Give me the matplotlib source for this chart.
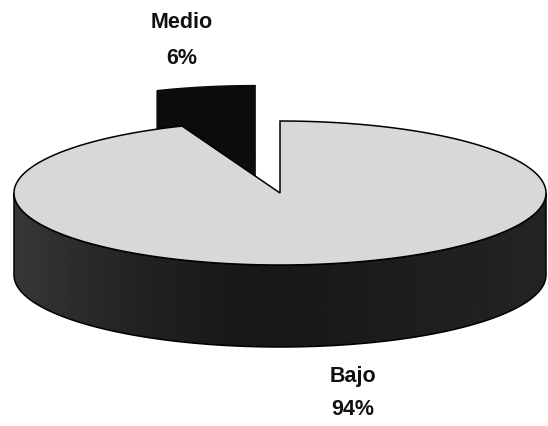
import numpy as np
import matplotlib.pyplot as plt
from matplotlib.patches import Polygon

# slice data
labels = ['Medio', 'Bajo']
values = [6, 94]
pct_labels = ['6%', '94%']
explode = [0.5, 0.0]

top_colors = ['#0c0c0c', '#d8d8d8']
edge_colors = ['#0c0c0c', 'black']

# pie geometry in pixel space
cx, cy = 280, 194
rx, ry = 266, 72
depth = 82
start_angle = 90


def rim(theta, off, z=0.0):
    t = np.radians(theta)
    return np.column_stack([cx + off[0] + rx * np.cos(t),
                            cy + off[1] - ry * np.sin(t) + z])


fig = plt.figure(figsize=(5.48, 4.27), dpi=100)
ax = fig.add_axes([0, 0, 1, 1])
ax.set_xlim(0, 548)
ax.set_ylim(427, 0)
ax.axis('off')

fracs = np.array(values) / np.sum(values)
angles = start_angle + 360 * np.concatenate([[0], np.cumsum(fracs)])

for i in range(len(values)):
    a0, a1 = angles[i], angles[i + 1]
    mid = np.radians((a0 + a1) / 2)
    off = (explode[i] * rx * np.cos(mid), -explode[i] * ry * np.sin(mid))
    centre = np.array([[cx + off[0], cy + off[1]]])
    arc = rim(np.linspace(a0, a1, 200), off)

    # front part of the outer wall, darker towards the middle
    lo, hi = max(a0, 180), min(a1, 360)
    if hi > lo:
        th = np.linspace(lo, hi, 200)
        wall = np.vstack([rim(th, off), rim(th[::-1], off, depth)])
        wpoly = Polygon(wall, closed=True, facecolor='none', edgecolor=edge_colors[i],
                        lw=1.1, zorder=2 + 3 * i)
        ax.add_patch(wpoly)
        xs = np.linspace(0, 548, 300)
        shade = 0.09 + 0.13 * np.clip(np.abs(xs - 270) / 260, 0, 1) ** 1.5
        shade[xs > 270] = 0.09 + 0.05 * np.clip((xs[xs > 270] - 270) / 260, 0, 1)
        img = np.tile(shade, (2, 1))
        im = ax.imshow(img, cmap='gray', vmin=0, vmax=1, extent=[0, 548, 427, 0],
                       aspect='auto', zorder=1 + 3 * i, interpolation='bilinear')
        im.set_clip_path(wpoly)

    # cut face at the far edge of the exploded slice
    if i == 0:
        edge = np.vstack([centre, rim([a1], off), rim([a1], off, depth),
                          centre + [0, depth]])
        ax.add_patch(Polygon(edge, closed=True, facecolor=top_colors[i],
                             edgecolor=edge_colors[i], lw=1.1, zorder=1 + 3 * i))

    top = np.vstack([centre, arc])
    ax.add_patch(Polygon(top, closed=True, facecolor=top_colors[i],
                         edgecolor=edge_colors[i], lw=1.1, zorder=3 + 3 * i))

# labels
font = dict(family=['Liberation Sans', 'DejaVu Sans'], fontweight='bold',
            fontsize=15.5, ha='center', va='center', color='#111111')
ax.text(182, 23, labels[0], **font)
ax.text(182, 59, pct_labels[0], **font)
ax.text(353, 377, labels[1], **font)
ax.text(353, 410, pct_labels[1], **font)

fig.savefig('out.png', dpi=100)
